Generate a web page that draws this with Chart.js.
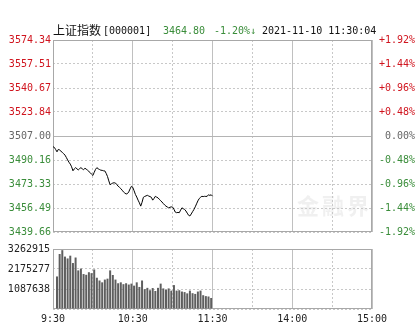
<!DOCTYPE html>
<html><head><meta charset="utf-8">
<script src="https://cdn.jsdelivr.net/npm/chart.js@4"></script>
<style>
html,body{margin:0;padding:0;background:#fff;}
#wrap{position:relative;width:415px;height:330px;overflow:hidden;background:#fff;}
canvas{position:absolute;left:0;}
.h{position:absolute;top:24px;line-height:14px;white-space:nowrap;font-family:"DejaVu Sans Mono",monospace;font-size:10px;color:#111;}
.wm{position:absolute;left:297px;top:188px;font-family:"Noto Sans CJK SC";font-weight:bold;font-size:22px;letter-spacing:3px;color:rgba(200,200,200,0.28);white-space:nowrap;}
</style></head><body>
<div id="wrap">
<canvas id="priceChart" width="415" height="240" style="top:0"></canvas>
<canvas id="volChart" width="415" height="90" style="top:240px"></canvas>
<div class="wm">金融界</div>
<div class="h" style="left:53px;top:23px;font-family:'Noto Sans CJK SC';font-size:12px;">上证指数</div>
<div class="h" style="left:103px;">[000001]</div>
<div class="h" style="left:163px;color:#3a8d3a;">3464.80</div>
<div class="h" style="left:214px;color:#3a8d3a;">-1.20%↓</div>
<div class="h" style="left:262px;">2021-11-10 11:30:04</div>
</div>
<script>
// ---- data ----
const prevClose = 3507.00;
const priceTicks = [3574.34, 3557.51, 3540.67, 3523.84, 3507.00, 3490.16, 3473.33, 3456.49, 3439.66];
const pctTicks = ['+1.92%','+1.44%','+0.96%','+0.48%','0.00%','-0.48%','-0.96%','-1.44%','-1.92%'];
const volTicks = [0, 1087638, 2175277, 3262915];
const gridMinutes = [0,30,60,90,120,150,180,210,240];
const timeTickMinutes = [0,60,120,180,240];
const timeLabels = ['9:30','10:30','11:30','14:00','15:00'];
// minute-by-minute index (9:30 .. 11:30)
const prices = [
3499.5,3499.0,3497.5,3495.9,3497.6,3497.2,3496.3,3495.5,3494.6,3493.6,
3492.0,3490.2,3488.6,3487.3,3485.4,3482.6,3483.9,3484.8,3484.0,3483.2,
3484.1,3484.8,3484.0,3483.4,3484.3,3483.9,3482.9,3482.1,3481.3,3480.2,
3479.3,3481.5,3483.6,3484.8,3484.0,3483.5,3483.0,3482.9,3482.6,3482.5,
3480.8,3478.6,3475.5,3472.8,3473.5,3474.0,3474.2,3474.0,3472.9,3471.8,
3471.0,3470.1,3469.0,3467.8,3467.0,3466.3,3466.6,3467.8,3469.9,3471.7,
3471.0,3468.6,3466.0,3464.2,3462.0,3460.1,3457.8,3460.5,3464.0,3464.6,
3465.0,3465.4,3464.9,3464.5,3464.0,3462.0,3463.2,3464.7,3464.1,3463.6,
3462.6,3461.6,3460.7,3459.6,3458.6,3457.8,3457.2,3456.6,3457.0,3457.3,
3457.1,3455.6,3453.6,3453.2,3453.4,3453.2,3455.0,3456.6,3456.0,3455.5,
3454.4,3452.9,3451.4,3450.9,3452.3,3453.9,3455.4,3457.3,3459.4,3461.5,
3463.1,3464.0,3464.7,3464.5,3464.7,3464.6,3464.7,3465.8,3465.3,3465.8,
3464.8];
const volMinutes = [3,5,7,9,11,13,15,17,19,21,23,25,27,29,31,33,35,37,39,41,43,45,47,49,51,53,55,57,59,61,
63,65,67,69,71,73,75,77,79,81,83,85,87,89,91,93,95,97,99,101,103,105,107,109,111,113,115,117,119];
const volumes = [
1770000,2990000,3200000,2850000,2750000,2900000,2500000,2800000,2100000,2200000,
1900000,1860000,2000000,1950000,2150000,1700000,1550000,1450000,1600000,1650000,
2100000,1850000,1600000,1400000,1450000,1350000,1400000,1330000,1380000,1270000,
1450000,1200000,1550000,1080000,1150000,1020000,1140000,980000,1150000,1380000,
1120000,1050000,1120000,1000000,1300000,1000000,1020000,950000,920000,850000,
1000000,860000,820000,950000,1000000,750000,700000,680000,600000];

// ---- styles ----
const RED = '#d0141e', GREEN = '#3a8d3a', GRAY = '#666666';
const FONT = {family: 'DejaVu Sans Mono', size: 10};
const dashCol = '#c8c8c8', solidCol = '#c0c0c0';

const frame = {id:'frame', beforeDatasetsDraw(c){
  const a = c.chartArea, x = c.ctx;
  x.save(); x.strokeStyle = '#a8a8a8'; x.lineWidth = 1;
  x.strokeRect(Math.round(a.left)+0.5, Math.round(a.top)+0.5, Math.round(a.right-a.left)-1, Math.round(a.bottom-a.top)-1);
  x.restore();
}};

const xGrid = {
  drawTicks:false, offset:false,
  color: c => (c.tick && c.tick.value % 60 === 0) ? solidCol : dashCol
};
const xBorder = {display:false, dash: c => (c.tick && c.tick.value % 60 !== 0) ? [2,2] : []};

function colorFor(v){ return v > prevClose + 0.001 ? RED : (v < prevClose - 0.001 ? GREEN : GRAY); }
function nearestIdx(v){ let b=0; priceTicks.forEach((t,i)=>{ if(Math.abs(t-v)<Math.abs(priceTicks[b]-v)) b=i; }); return b; }

new Chart(document.getElementById('priceChart'), {
  type:'line',
  data:{datasets:[{data: prices.map((p,i)=>({x:i,y:p})), borderColor:'#000', borderWidth:1, pointRadius:0, tension:0, yAxisID:'y'}]},
  options:{
    responsive:false, animation:false, events:[],
    layout:{padding:{top:40,bottom:7,left:0,right:0}},
    plugins:{legend:{display:false}, tooltip:{enabled:false}},
    scales:{
      x:{type:'linear', min:0, max:240, offset:false,
        afterBuildTicks:s=>{ s.ticks = gridMinutes.map(v=>({value:v})); },
        afterFit:s=>{ s.height = 0; },
        ticks:{display:false}, grid:xGrid, border:xBorder},
      y:{position:'left', min:priceTicks[8], max:priceTicks[0],
        afterBuildTicks:s=>{ s.ticks = priceTicks.map(v=>({value:v})); },
        afterFit:s=>{ s.width = 53; },
        ticks:{font:FONT, padding:2, color:c=>colorFor(c.tick.value), callback:v=>priceTicks[nearestIdx(v)].toFixed(2)},
        grid:{drawTicks:false, color:c=>(c.tick && Math.abs(c.tick.value-prevClose)<0.001) ? '#b4b4b4' : dashCol},
        border:{display:false, dash:c=>(c.tick && Math.abs(c.tick.value-prevClose)<0.001) ? [] : [2,2]}},
      y2:{position:'right', min:priceTicks[8], max:priceTicks[0],
        afterBuildTicks:s=>{ s.ticks = priceTicks.map(v=>({value:v})); },
        afterFit:s=>{ s.width = 43; },
        ticks:{font:FONT, padding:1, crossAlign:'far', color:c=>colorFor(c.tick.value), callback:v=>pctTicks[nearestIdx(v)]},
        grid:{display:false, drawTicks:false}, border:{display:false}}
    }
  },
  plugins:[frame]
});

new Chart(document.getElementById('volChart'), {
  type:'bar',
  data:{datasets:[{data: volumes.map((v,i)=>({x:volMinutes[i], y:v})), backgroundColor:'#5e5e5e', barPercentage:1, categoryPercentage:0.75}]},
  options:{
    responsive:false, animation:false, events:[],
    layout:{padding:{top:7,bottom:0,left:0,right:43}},
    plugins:{legend:{display:false}, tooltip:{enabled:false}},
    scales:{
      x:{type:'linear', min:0, max:240, offset:false,
        afterBuildTicks:s=>{ s.ticks = gridMinutes.map(v=>({value:v})); },
        afterFit:s=>{ s.height = 21; },
        ticks:{font:FONT, color:'#222', padding:4, autoSkip:false, maxRotation:0,
          callback:v=>{ const k = timeTickMinutes.indexOf(v); return k>=0 ? timeLabels[k] : ''; }},
        grid:xGrid, border:xBorder},
      y:{position:'left', min:0, max:volTicks[3],
        afterBuildTicks:s=>{ s.ticks = volTicks.map(v=>({value:v})); },
        afterFit:s=>{ s.width = 53; },
        ticks:{font:FONT, padding:3, color:'#222', callback:v=> v===0 ? '' : String(Math.round(v))},
        grid:{drawTicks:false, color:dashCol},
        border:{display:false, dash:[2,2]}}
    }
  },
  plugins:[frame]
});
</script>
</body></html>
